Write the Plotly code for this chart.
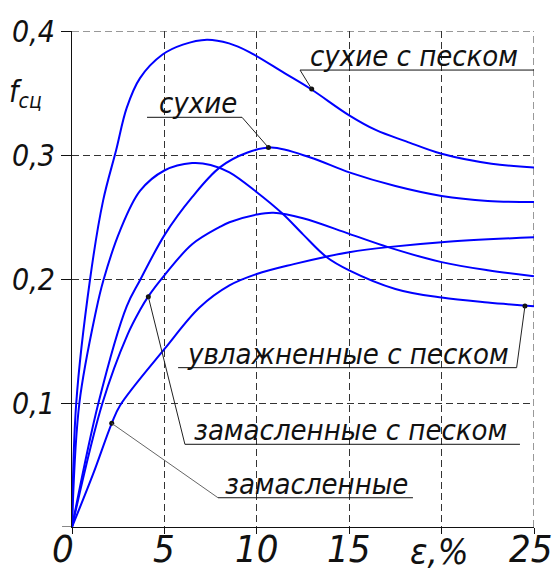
import plotly.graph_objects as go

# ---------------- data ----------------
# Curve "сухие с песком" (top)
x_sp = [0, 0.23, 0.97, 1.68, 2.39, 2.96, 3.68, 4.9, 6.0, 7.3, 8.5, 9.6, 11.5, 12.94, 15, 16.46, 18.08, 20, 22.7, 25]
y_sp = [0, 0.100, 0.199, 0.263, 0.304, 0.338, 0.362, 0.381, 0.389, 0.393, 0.390, 0.383, 0.366, 0.353, 0.332, 0.320, 0.311, 0.301, 0.293, 0.290]

# Curve "сухие"
x_s = [0, 1.43, 2.96, 3.68, 5.03, 6.5, 8.0, 9.5, 10.8, 12.9, 15, 17.5, 20, 22.5, 25]
y_s = [0, 0.100, 0.178, 0.199, 0.236, 0.266, 0.290, 0.302, 0.306, 0.298, 0.286, 0.275, 0.267, 0.263, 0.262]

# Curve "увлажненные с песком"
x_u = [0, 0.4, 1.31, 1.7, 2.6, 3.68, 5.0, 6.5, 7.5, 8.52, 10, 11.4, 12.5, 13.75, 15, 17.5, 20, 22.5, 25]
y_u = [0, 0.100, 0.175, 0.199, 0.239, 0.271, 0.2875, 0.2935, 0.292, 0.286, 0.270, 0.2526, 0.236, 0.218, 0.207, 0.192, 0.185, 0.181, 0.178]

# Curve "замасленные с песком"
x_zp = [0, 1.65, 3.0, 3.68, 4.13, 5.0, 6.5, 8.0, 8.52, 10, 10.9, 12.5, 15, 17.1, 20, 22.5, 25]
y_zp = [0, 0.100, 0.155, 0.175, 0.186, 0.203, 0.228, 0.242, 0.2458, 0.252, 0.2534, 0.249, 0.2364, 0.2257, 0.2136, 0.207, 0.2023]

# Curve "замасленные" (lowest at start)
x_z = [0, 1.15, 2.15, 2.6, 5.03, 6.9, 8.52, 10, 12, 13.75, 15, 17.1, 20, 25]
y_z = [0, 0.043, 0.0836, 0.098, 0.144, 0.177, 0.1948, 0.204, 0.212, 0.218, 0.2216, 0.2257, 0.2297, 0.2337]

# Label texts and the marked points on the curves
labels = ["сухие с песком", "сухие", "увлажненные с песком", "замасленные с песком", "замасленные"]
mark_x = [12.97, 10.63, 24.51, 4.13, 2.15]
mark_y = [0.3532, 0.306, 0.1782, 0.1857, 0.0836]

# Axis ticks
x_tickvals = [0, 5, 10, 15, 20, 25]
x_ticktext = ["0", "5", "10", "15", "", "25"]
y_tickvals = [0.1, 0.2, 0.3, 0.4]
y_ticktext = ["0,1", "0,2", "0,3", "0,4"]
x_title = "ε,%"
y_title = "f<sub>сц</sub>"

# ---------------- layout of label callouts (positions only) ----------------
# (underline x start, underline x end, underline y, text x start)
callout_pos = [
    (12.34, 25.0, 0.3685, 12.77),
    (4.06, 9.2, 0.3304, 4.6),
    (5.74, 24.06, 0.1285, 6.11),
    (6.11, 24.24, 0.0667, 6.49),
    (7.9, 18.45, 0.0236, 8.17),
]
leader_from_start = [True, False, False, True, True]
leader_colors = ["#222", "#222", "#222", "#222", "#666"]
x_label_shift = [-9, 0, 0, 0, 0, -3]

FONT = "DejaVu Sans Condensed, Liberation Sans Narrow, DejaVu Sans, sans-serif"
BLUE = "#0000ff"
GRID = dict(color="#333", width=1, dash="7px,4px")

fig = go.Figure()
for xs, ys in [(x_sp, y_sp), (x_s, y_s), (x_u, y_u), (x_zp, y_zp), (x_z, y_z)]:
    fig.add_trace(go.Scatter(x=xs, y=ys, mode="lines",
                             line=dict(color=BLUE, width=2, shape="spline", smoothing=1.0),
                             hoverinfo="skip"))

shapes = [
    dict(type="line", xref="x", yref="paper", x0=25, x1=25, y0=0, y1=1, line=GRID, layer="below"),
    dict(type="line", xref="paper", yref="y", x0=0, x1=1, y0=0.4, y1=0.4, line=GRID, layer="below"),
    # short tick to the left of the origin
    dict(type="line", xref="paper", yref="y", x0=-0.0216, x1=0, y0=0, y1=0,
         line=dict(color="#111", width=1)),
]
annotations = []
for i, lab in enumerate(labels):
    x0, x1, yu, xt = callout_pos[i]
    shapes.append(dict(type="line", xref="x", yref="y", x0=x0, x1=x1, y0=yu, y1=yu,
                       line=dict(color="#111", width=1)))
    lx = x0 if leader_from_start[i] else x1
    shapes.append(dict(type="line", xref="x", yref="y", x0=lx, y0=yu, x1=mark_x[i], y1=mark_y[i],
                       line=dict(color=leader_colors[i], width=1)))
    annotations.append(dict(x=xt, y=yu, xref="x", yref="y", text=lab, showarrow=False,
                            xanchor="left", yanchor="bottom", yshift=-5,
                            font=dict(family=FONT, size=29, color="#111", style="italic")))

# x tick labels
for i, (tv, tt) in enumerate(zip(x_tickvals, x_ticktext)):
    if tt:
        annotations.append(dict(x=tv, y=-0.0444, xref="x", yref="paper", text=tt, showarrow=False,
                                xanchor="center", yanchor="middle", xshift=x_label_shift[i],
                                font=dict(family=FONT, size=38, color="#111", style="italic")))

fig.add_trace(go.Scatter(x=mark_x, y=mark_y, mode="markers",
                         marker=dict(color="#111", size=5, symbol="circle"), hoverinfo="skip"))

annotations.append(dict(x=-0.14, y=0.875, xref="paper", yref="paper", text=y_title,
                        showarrow=False, xanchor="left", yanchor="middle",
                        font=dict(family=FONT, size=30, color="#111", style="italic")))
annotations.append(dict(x=19.9, y=-0.0444, xref="x", yref="paper", text=x_title,
                        showarrow=False, xanchor="center", yanchor="middle", yshift=-2,
                        font=dict(family=FONT, size=36, color="#111", style="italic")))

fig.update_layout(
    width=555, height=572,
    margin=dict(l=72, r=21, t=31, b=45, autoexpand=False),
    plot_bgcolor="white", paper_bgcolor="white",
    showlegend=False, separators=", ",
    shapes=shapes, annotations=annotations,
)
fig.update_xaxes(range=[0, 25], tickvals=x_tickvals, showticklabels=False, automargin=False,
                 showgrid=True, gridcolor="#333", gridwidth=1, griddash="7px,4px",
                 showline=True, linecolor="#111", linewidth=1, zeroline=False,
                 ticks="outside", ticklen=6, tickcolor="#111")
fig.update_yaxes(range=[0, 0.4], tickvals=y_tickvals, ticktext=y_ticktext, automargin=False,
                 ticklabeloverflow="allow",
                 showgrid=True, gridcolor="#333", gridwidth=1, griddash="7px,4px",
                 showline=True, linecolor="#111", linewidth=1, zeroline=False,
                 ticks="outside", ticklen=10, tickcolor="#111",
                 tickfont=dict(family=FONT, size=30, color="#111", style="italic"))

fig.write_html("out.html")
